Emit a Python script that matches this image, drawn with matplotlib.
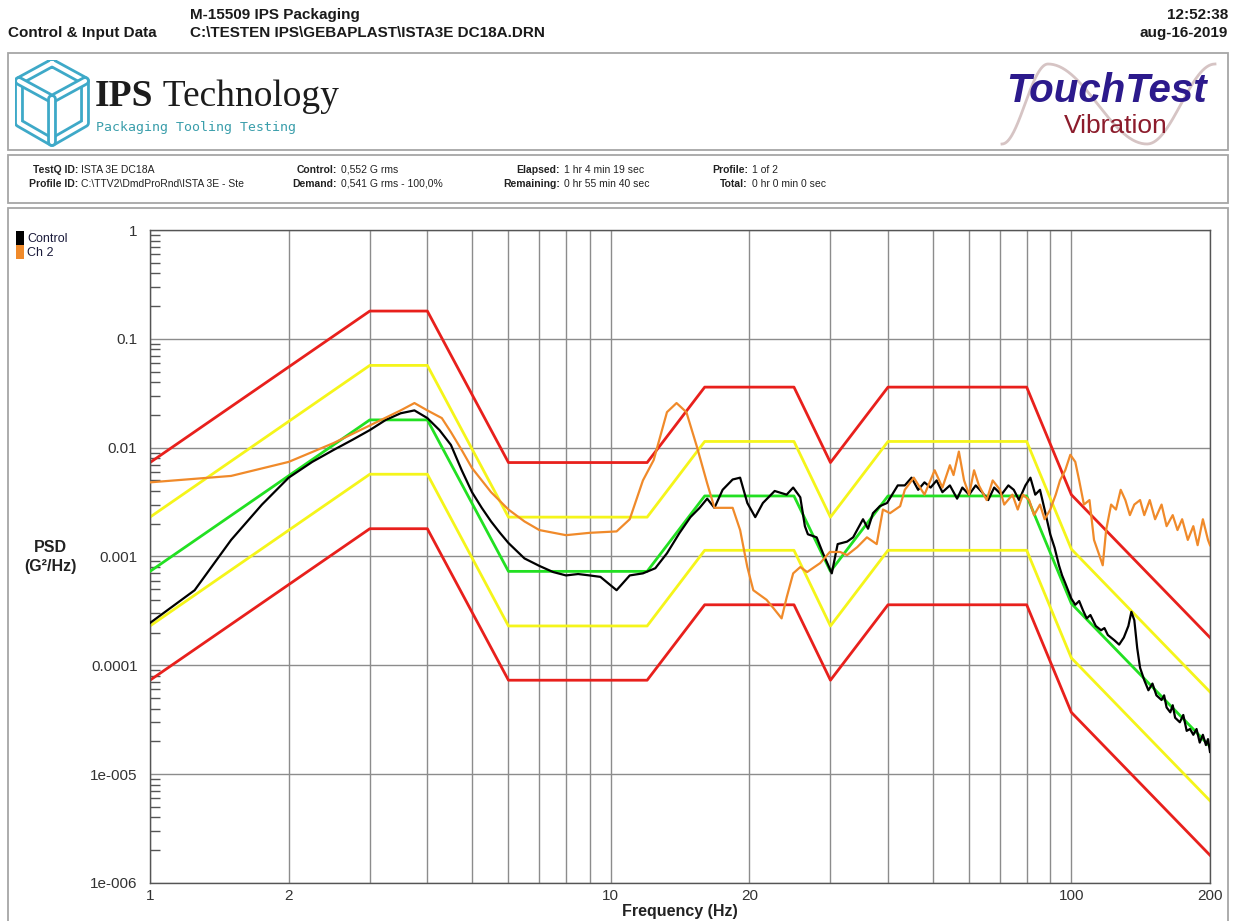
import numpy as np
import matplotlib
matplotlib.use('Agg')
import matplotlib.pyplot as plt
import matplotlib.patheffects as pe
from matplotlib.patches import Rectangle, Patch
from matplotlib.text import Annotation
from matplotlib.ticker import LogLocator, NullFormatter

plt.rcParams['font.family'] = ['Liberation Sans', 'DejaVu Sans']

# profile break points (Hz) with demand and alarm / abort limits (G^2/Hz)
profile_freq = [1, 3, 4, 6, 12, 16, 25, 30, 40, 80, 100, 200]
demand_psd = [0.00073, 0.018, 0.018, 0.00073, 0.00073, 0.0036, 0.0036, 0.00073, 0.0036, 0.0036, 0.00037, 0.000018]
abort_hi = [0.0073, 0.18, 0.18, 0.0073, 0.0073, 0.036, 0.036, 0.0073, 0.036, 0.036, 0.0037, 0.00018]
alarm_hi = [0.0023, 0.057, 0.057, 0.0023, 0.0023, 0.0114, 0.0114, 0.0023, 0.0114, 0.0114, 0.00117, 0.000057]
alarm_lo = [0.00023, 0.0057, 0.0057, 0.00023, 0.00023, 0.00114, 0.00114, 0.00023, 0.00114, 0.00114, 0.000117, 0.0000057]
abort_lo = [0.000073, 0.0018, 0.0018, 0.000073, 0.000073, 0.00036, 0.00036, 0.000073, 0.00036, 0.00036, 0.000037, 0.0000018]

# measured control spectrum
control_freq = [1.0, 1.25, 1.5, 1.75, 2.0, 2.25, 2.5, 2.75, 3.0, 3.25,
                3.5, 3.75, 4.0, 4.25, 4.5, 4.75, 5.0, 5.25, 5.5, 5.75,
                6.0, 6.5, 7.0, 7.5, 8.0, 8.5, 9.0, 9.5, 10.3, 11.0,
                11.75, 12.5, 13.25, 14.1, 14.9, 15.6, 16.2, 16.8, 17.5, 18.4,
                19.1, 19.8, 20.6, 21.4, 22.7, 24.1, 24.9, 25.8, 26.4, 26.8,
                28.0, 28.9, 30.2, 31.1, 32.6, 33.6, 35.3, 36.2, 37.1, 38.4,
                39.8, 41.0, 42.0, 43.5, 45, 46.5, 48, 49.5, 51, 52.5,
                54.5, 56.5, 58, 60, 62, 64, 66, 68, 70.5, 73,
                75, 77, 79.5, 81.5, 83.5, 85.5, 87.5, 90, 92, 94,
                95.5, 97, 100, 102, 104, 106, 108, 110, 113, 116,
                118, 120, 124, 127, 130, 133, 135, 137, 139, 141,
                144, 147, 150, 153, 157, 159, 161, 164, 166, 168,
                172, 175, 178, 181, 184, 187, 190, 193, 196, 198,
                200]
control_psd = [0.000245, 0.00049, 0.00142, 0.0030, 0.0053, 0.0074, 0.0095, 0.0118, 0.0145, 0.018,
               0.0207, 0.022, 0.0187, 0.0145, 0.0106, 0.0062, 0.0039, 0.0028, 0.0021, 0.00165,
               0.00133, 0.00096, 0.00082, 0.00072, 0.00067, 0.00069, 0.00067, 0.00065, 0.00049, 0.00067,
               0.0007, 0.00078, 0.00107, 0.00164, 0.0023, 0.0028, 0.0034, 0.0028, 0.0041, 0.0051,
               0.0053, 0.0031, 0.0023, 0.0031, 0.0040, 0.0037, 0.0043, 0.0035, 0.0019, 0.0016,
               0.0015, 0.00107, 0.0007, 0.0013, 0.00137, 0.0015, 0.0022, 0.0018, 0.0025, 0.0029,
               0.0031, 0.0038, 0.0045, 0.0045, 0.0053, 0.0041, 0.0048, 0.0043, 0.0050, 0.0039,
               0.0045, 0.0034, 0.0043, 0.0037, 0.0045, 0.0039, 0.0033, 0.0043, 0.0037, 0.0045,
               0.0041, 0.0033, 0.0045, 0.0053, 0.0037, 0.0041, 0.0027, 0.0016, 0.0012, 0.00083,
               0.00067, 0.00057, 0.00041, 0.00036, 0.00039, 0.00032, 0.00027, 0.00029, 0.00023, 0.00021,
               0.00022, 0.00019, 0.00017, 0.000155, 0.00018, 0.00023, 0.00031, 0.00026, 0.000144, 0.000095,
               0.000073, 0.000059, 0.000068, 0.000053, 0.000048, 0.000053, 0.000041, 0.000037, 0.000043, 0.000033,
               0.000030, 0.000035, 0.000025, 0.000026, 0.000023, 0.000026, 0.0000195, 0.000023, 0.0000185, 0.000021,
               0.000016]

# channel 2 spectrum
ch2_freq = [1.0, 1.5, 2.0, 2.5, 3.0, 3.5, 3.75, 4.0, 4.3, 4.5,
            4.75, 5.0, 5.5, 6.0, 6.5, 7.0, 8.0, 9.0, 10.3, 11.0,
            11.75, 12.4, 13.25, 13.9, 14.6, 15.4, 16.2, 16.8, 18.4, 19.1,
            19.8, 20.4, 21.8, 22.5, 23.5, 24.1, 24.9, 25.8, 26.7, 28.5,
            29.9, 31.5, 32.6, 34.3, 36.0, 37.8, 39.0, 40.4, 42.5, 43.5,
            45.5, 48, 50.5, 52.5, 54.5, 55.5, 57, 58.5, 60, 61.5,
            63, 65.5, 67.5, 70, 71.5, 74.5, 76.5, 78.5, 81, 83,
            85.5, 87.5, 90, 92.5, 94.5, 97, 99.5, 102, 104, 106.5,
            109.5, 112, 115, 117, 119, 122, 125, 128, 131, 134,
            137, 141, 144, 148, 152, 157, 161, 166, 170, 174,
            179, 184, 188, 193, 198, 200]
ch2_psd = [0.0048, 0.0055, 0.0074, 0.011, 0.016, 0.022, 0.0257, 0.022, 0.0187, 0.0139,
           0.0095, 0.0065, 0.0039, 0.0027, 0.0021, 0.00175, 0.00157, 0.00165, 0.0017, 0.0022,
           0.0050, 0.0077, 0.0212, 0.0257, 0.0212, 0.0101, 0.0047, 0.0028, 0.0028, 0.00175,
           0.0008, 0.00049, 0.0004, 0.00034, 0.00027, 0.00042, 0.0007, 0.0008, 0.00072, 0.00087,
           0.0011, 0.0011, 0.00103, 0.00122, 0.0015, 0.0013, 0.0027, 0.0025, 0.0029, 0.0041,
           0.0053, 0.0037, 0.0062, 0.0043, 0.0069, 0.0056, 0.0092, 0.0050, 0.0037, 0.0062,
           0.0045, 0.0033, 0.0050, 0.0041, 0.0030, 0.0037, 0.0027, 0.0037, 0.0033, 0.0024,
           0.0030, 0.0022, 0.0027, 0.0037, 0.0050, 0.0062, 0.0086, 0.0074, 0.0050, 0.0030,
           0.0033, 0.00142, 0.00103, 0.00083, 0.00175, 0.0030, 0.0027, 0.0041, 0.0033, 0.0024,
           0.0030, 0.0033, 0.0024, 0.0033, 0.0022, 0.0030, 0.0019, 0.0024, 0.00175, 0.0022,
           0.00142, 0.0019, 0.00127, 0.0022, 0.00142, 0.00127]

series_names = ['Control', 'Ch 2']
xtick_vals = [1, 2, 10, 20, 100, 200]
xtick_labels = ['1', '2', '10', '20', '100', '200']
xgrid_minor = [3, 4, 5, 6, 7, 8, 9, 30, 40, 50, 60, 70, 80, 90]
ytick_vals = [1e-6, 1e-5, 1e-4, 1e-3, 1e-2, 1e-1, 1]
ytick_labels = ['1e-006', '1e-005', '0.0001', '0.001', '0.01', '0.1', '1']

info_rows = [
    [('TestQ ID:', 'ISTA 3E DC18A'), ('Control:', '0,552 G rms'),
     ('Elapsed:', '1 hr 4 min 19 sec'), ('Profile:', '1 of 2')],
    [('Profile ID:', 'C:\\TTV2\\DmdProRnd\\ISTA 3E - Ste'), ('Demand:', '0,541 G rms - 100,0%'),
     ('Remaining:', '0 hr 55 min 40 sec'), ('Total:', '0 hr 0 min 0 sec')],
]

W, H = 1242, 921


def fx(px):
    return px / W


def fy(py):
    return 1 - py / H


fig = plt.figure(figsize=(W / 100, H / 100), dpi=100)
fig.patch.set_facecolor('white')

# header
hdr = dict(fontsize=11, fontweight='bold', color='#1a1a1a', va='center')
fig.text(fx(8), fy(33), 'Control & Input Data', ha='left', **hdr)
fig.text(fx(190), fy(15), 'M-15509 IPS Packaging', ha='left', **hdr)
fig.text(fx(190), fy(33), 'C:\\TESTEN IPS\\GEBAPLAST\\ISTA3E DC18A.DRN', ha='left', **hdr)
fig.text(fx(1228), fy(15), '12:52:38', ha='right', **hdr)
fig.text(fx(1228), fy(33), 'aug-16-2019', ha='right', **hdr)

# boxes
box_style = dict(fill=False, edgecolor='#a6a6a6', linewidth=1.3, transform=fig.transFigure)
fig.add_artist(Rectangle((fx(8), fy(150)), fx(1220), (150 - 53) / H, **box_style))
fig.add_artist(Rectangle((fx(8), fy(203)), fx(1220), (203 - 155) / H, **box_style))
fig.add_artist(Rectangle((fx(8), fy(935)), fx(1220), (935 - 208) / H, **box_style))

# IPS logo icon
ax_icon = fig.add_axes([fx(15), fy(147), 75 / W, 87 / H])
ax_icon.set_xlim(0, 75)
ax_icon.set_ylim(0, 87)
ax_icon.axis('off')
tube = [pe.Stroke(linewidth=7, foreground='#3ea9c8'), pe.Normal()]
icon_paths = [
    [(37, 84), (70, 66), (70, 24), (37, 5), (4, 24), (4, 66), (37, 84)],
    [(4, 66), (37, 48), (70, 66)],
    [(37, 48), (37, 5)],
]
for pts in icon_paths:
    xs, ys = zip(*pts)
    ax_icon.plot(xs, ys, color='white', lw=3, solid_joinstyle='round',
                 solid_capstyle='round', path_effects=tube)

t_ips = fig.text(fx(95), fy(106), 'IPS', family='Liberation Serif', fontweight='bold',
                 fontsize=27, color='#1c1c1c', va='baseline', ha='left')
fig.add_artist(Annotation(' Technology', xy=(1, 0), xycoords=t_ips, va='bottom', ha='left',
                          family='Liberation Serif', fontsize=27, color='#1c1c1c'))
fig.text(fx(96), fy(131), 'Packaging Tooling Testing', family='DejaVu Sans Mono',
         fontsize=9.5, color='#3a9eab', va='baseline', ha='left')

# TouchTest logo
phase = np.linspace(-np.pi, 2 * np.pi, 200)
swoosh_x = np.interp(phase, [-np.pi, 0, np.pi, 2 * np.pi], [1002, 1048, 1147, 1215])
swoosh_y = 104 - 40 * np.cos(phase)
fig.add_artist(plt.Line2D(fx(swoosh_x), fy(swoosh_y), color='#d6c4c4', lw=2,
                          transform=fig.transFigure))
fig.text(fx(1106), fy(102), 'TouchTest', fontweight='bold', fontstyle='italic',
         fontsize=29, color='#2c1a8c', ha='center', va='baseline')
fig.text(fx(1116), fy(133), 'Vibration', fontsize=19, color='#8c1c2c', ha='center', va='baseline')

# info bar
cols = [(78, 81), (337, 341), (560, 564), (748, 752)]
for row, ypx in zip(info_rows, [170, 184]):
    for (lab, val), (xl, xv) in zip(row, cols):
        fig.text(fx(xl), fy(ypx), lab, fontsize=7.5, fontweight='bold', color='#222222',
                 ha='right', va='center')
        fig.text(fx(xv), fy(ypx), val, fontsize=7.5, color='#222222', ha='left', va='center')

# main PSD plot
ax = fig.add_axes([fx(150), fy(883), 1060 / W, 653 / H])
ax.set_xscale('log')
ax.set_yscale('log')

ax.plot(profile_freq, abort_hi, color='#e8201c', lw=2, zorder=2)
ax.plot(profile_freq, abort_lo, color='#e8201c', lw=2, zorder=2)
ax.plot(profile_freq, alarm_hi, color='#f5f51a', lw=2, zorder=2)
ax.plot(profile_freq, alarm_lo, color='#f5f51a', lw=2, zorder=2)
ax.plot(profile_freq, demand_psd, color='#22e022', lw=2, zorder=3)
ax.plot(control_freq, control_psd, color='black', lw=1.6, zorder=4)
ax.plot(ch2_freq, ch2_psd, color='#f08a2a', lw=1.6, zorder=5)

ax.set_xlim(1, 200)
ax.set_ylim(1e-6, 1)
ax.set_xticks(xtick_vals, xtick_labels)
ax.set_xticks(xgrid_minor, minor=True)
ax.xaxis.set_minor_formatter(NullFormatter())
ax.set_yticks(ytick_vals, ytick_labels)
ax.yaxis.set_minor_locator(LogLocator(base=10, subs=range(2, 10), numticks=20))
ax.yaxis.set_minor_formatter(NullFormatter())

ax.grid(True, which='both', axis='x', color='#8c8c8c', lw=1)
ax.grid(True, which='major', axis='y', color='#8c8c8c', lw=1)
ax.set_axisbelow(True)
ax.tick_params(axis='x', which='both', length=0, labelsize=11, labelcolor='#333333', pad=4)
ax.tick_params(axis='y', which='major', length=0, labelsize=11, labelcolor='#333333', pad=9)
ax.tick_params(axis='y', which='minor', length=7, direction='in', color='#555555', width=1)
for sp in ax.spines.values():
    sp.set_color('#555555')
    sp.set_linewidth(1)

ax.set_xlabel('Frequency (Hz)', fontsize=11.5, fontweight='bold', color='#222222', labelpad=1)
fig.text(fx(50), fy(547), 'PSD', fontsize=11.5, fontweight='bold', color='#222222',
         ha='center', va='center')
fig.text(fx(50), fy(566), '(G²/Hz)', fontsize=11.5, fontweight='bold', color='#222222',
         ha='center', va='center')

handles = [Patch(facecolor='black', edgecolor='none'), Patch(facecolor='#f08a2a', edgecolor='none')]
fig.legend(handles, series_names, loc='upper left', bbox_to_anchor=(fx(16), fy(231)),
           frameon=False, fontsize=9, handlelength=0.6, handleheight=1.3,
           handletextpad=0.3, labelspacing=0, borderaxespad=0, borderpad=0,
           labelcolor='#1a1a3a')

fig.savefig('out.png', dpi=100)
